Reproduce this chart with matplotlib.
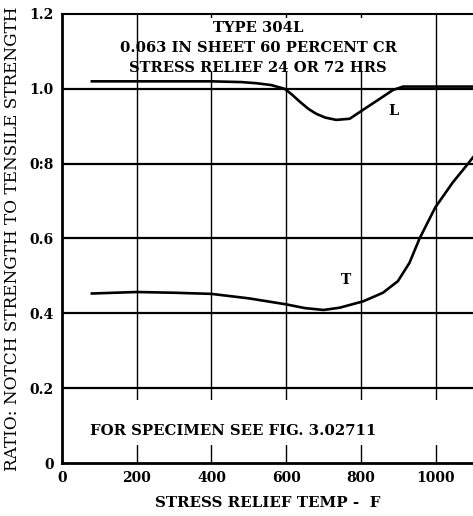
import matplotlib
matplotlib.use("Agg")
import matplotlib.pyplot as plt
from matplotlib.patches import Rectangle

# Data
l_temp = [80, 200, 300, 400, 480, 520, 560, 596, 615, 636, 660, 681, 705, 734, 770, 806, 850, 886, 913, 984, 1100]
l_ratio = [1.02, 1.02, 1.02, 1.02, 1.018, 1.015, 1.01, 1.0, 0.985, 0.966, 0.946, 0.933, 0.923, 0.917, 0.920, 0.944, 0.973, 0.997, 1.006, 1.006, 1.006]

t_temp = [80, 200, 300, 400, 500, 600, 650, 700, 743, 806, 859, 899, 930, 957, 999, 1046, 1086, 1100]
t_ratio = [0.453, 0.457, 0.455, 0.452, 0.44, 0.424, 0.414, 0.409, 0.415, 0.432, 0.455, 0.486, 0.535, 0.600, 0.683, 0.750, 0.799, 0.817]

x_ticks = [0, 200, 400, 600, 800, 1000]
x_tick_labels = ["0", "200", "400", "600", "800", "1000"]
y_ticks = [0, 0.2, 0.4, 0.6, 0.8, 1.0, 1.2]
y_tick_labels = ["0", "0.2", "0.4", "0.6", "0:8", "1.0", "1.2"]

title_lines = "TYPE 304L\n0.063 IN SHEET 60 PERCENT CR\nSTRESS RELIEF 24 OR 72 HRS"
note = "FOR SPECIMEN SEE FIG. 3.02711"

FONT = "DejaVu Serif"

fig = plt.figure(figsize=(4.73, 5.16), dpi=100)
ax = fig.add_axes([0.131, 0.1027, 0.869, 0.8702])
ax.set_xlim(0, 1100)
ax.set_ylim(0, 1.2)

# grid
for yv in [0.2, 0.4, 0.6, 0.8, 1.0]:
    ax.axhline(yv, color="black", lw=1.6, zorder=1)
for xv in [200, 400, 600, 800, 1000]:
    ax.axvline(xv, color="black", lw=1.0, zorder=1)

# white masks behind annotation text
ax.add_patch(Rectangle((0.30, 0.87), 0.47, 0.12, transform=ax.transAxes,
                       facecolor="white", edgecolor="none", zorder=2))
ax.add_patch(Rectangle((0.004, 0.04), 0.99, 0.10, transform=ax.transAxes,
                       facecolor="white", edgecolor="none", zorder=2))

ax.plot(l_temp, l_ratio, color="black", lw=1.9, zorder=3)
ax.plot(t_temp, t_ratio, color="black", lw=1.9, zorder=3)

ax.text(888, 0.94, "L", fontfamily=FONT, fontweight="bold", fontsize=10.5,
        ha="center", va="center", zorder=4)
ax.text(760, 0.49, "T", fontfamily=FONT, fontweight="bold", fontsize=10,
        ha="center", va="center", zorder=4)
ax.text(525, 1.11, title_lines, fontfamily=FONT, fontweight="bold", fontsize=10.6,
        ha="center", va="center", linespacing=1.55, zorder=4)
ax.text(75, 0.086, note, fontfamily=FONT, fontweight="bold", fontsize=10.7,
        ha="left", va="center", zorder=4)

ax.set_xticks(x_ticks)
ax.set_xticklabels(x_tick_labels, fontfamily=FONT, fontweight="bold", fontsize=10)
ax.set_yticks(y_ticks)
ax.set_yticklabels(y_tick_labels, fontfamily=FONT, fontweight="bold", fontsize=10)
ax.tick_params(length=0, pad=6)

for s in ["left", "bottom"]:
    ax.spines[s].set_linewidth(2.0)
ax.spines["top"].set_linewidth(1.5)
ax.spines["right"].set_visible(False)

ax.set_xlabel("STRESS RELIEF TEMP -  F", fontfamily=FONT, fontweight="bold",
              fontsize=10.9, labelpad=8)
ax.set_ylabel("RATIO: NOTCH STRENGTH TO TENSILE STRENGTH", fontfamily=FONT,
              fontsize=12.2, labelpad=6)

fig.savefig("out.png", dpi=100)
